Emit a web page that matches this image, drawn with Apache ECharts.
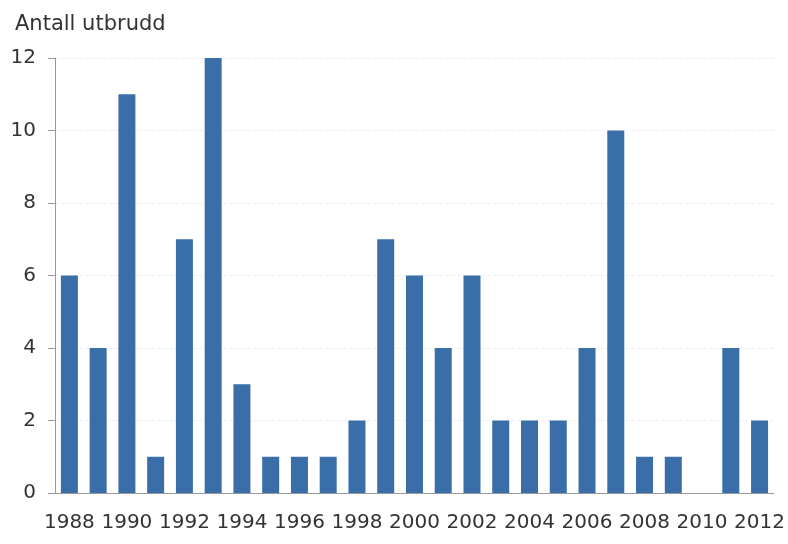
<!DOCTYPE html>
<html>
<head>
<meta charset="utf-8">
<script src="https://cdn.jsdelivr.net/npm/echarts@6/dist/echarts.min.js"></script>
<style>
  html, body { margin: 0; padding: 0; background: #fff; }
  #chart { width: 788px; height: 544px; }
</style>
</head>
<body>
<div id="chart"></div>
<script>
// årstall og antall utbrudd
const years = ['1988', '1989', '1990', '1991', '1992', '1993', '1994', '1995', '1996', '1997',
  '1998', '1999', '2000', '2001', '2002', '2003', '2004', '2005', '2006', '2007',
  '2008', '2009', '2010', '2011', '2012']
const outbreaks = [6, 4, 11, 1, 7, 12, 3, 1, 1, 1, 2, 7, 6, 4, 6, 2, 2, 2, 4, 10, 1, 1, 0, 4, 2]

let myChart = echarts.init(document.getElementById('chart'))

let axisGrey = '#999'
let textColor = '#333'
let font = 'DejaVu Sans'

let option = {
  animation: false,
  title: {
    text: 'Antall utbrudd',
    left: 10,
    top: 9,
    textStyle: { fontFamily: font, fontSize: 21, fontWeight: 'normal', color: textColor },
  },
  grid: { left: 55, right: 13, top: 58, bottom: 51 },
  xAxis: {
    type: 'category',
    data: years,
    axisLine: { lineStyle: { color: axisGrey, width: 1 } },
    axisTick: { interval: 0, length: 10, lineStyle: { color: axisGrey } },
    axisLabel: {
      interval: 1,
      margin: 20,
      fontFamily: font,
      fontSize: 20,
      color: textColor,
    },
  },
  yAxis: {
    type: 'value',
    min: 0,
    max: 12,
    interval: 2,
    axisLine: { show: true, lineStyle: { color: axisGrey, width: 1 } },
    axisTick: { show: true, length: 7, lineStyle: { color: axisGrey } },
    axisLabel: { margin: 19, fontFamily: font, fontSize: 20, color: textColor },
    splitLine: { lineStyle: { color: '#eeeeee', type: 'dashed' } },
  },
  series: [
    {
      name: 'Antall utbrudd',
      type: 'bar',
      data: outbreaks,
      barWidth: 17,
      itemStyle: { color: '#3a6ea8' },
    },
  ],
}

myChart.setOption(option)
</script>
</body>
</html>
